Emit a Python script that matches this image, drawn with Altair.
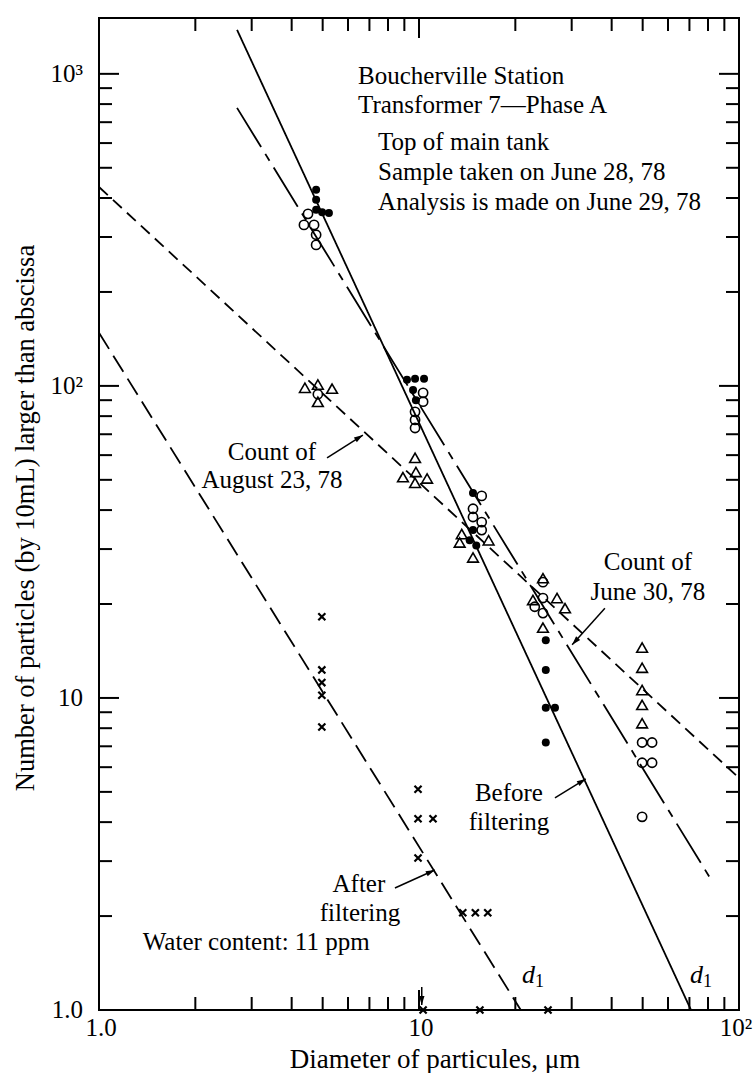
import math
import altair as alt
import pandas as pd

FONT = "Liberation Serif"
FS = 25
W, H = 640, 992
X_DOMAIN = [1, 100]
Y_DOMAIN = [1, 1510]

# ---- measured counts: particles (per 10 mL) larger than the diameter (μm)
# filled circles
before_x = [4.77, 4.77, 4.77, 4.98, 5.23, 9.17, 9.72, 10.37, 9.58, 9.78,
            14.75, 14.75, 14.4, 15.1, 24.9, 24.9, 24.9, 26.6, 24.9]
before_y = [425, 395, 367, 360, 358, 104.6, 105.4, 105.4, 97, 90,
            45.4, 34.5, 32, 30.8, 15.3, 12.3, 9.3, 9.3, 7.2]

# open circles
june_x = [4.5, 4.37, 4.7, 4.77, 4.77, 4.83, 10.3, 10.3, 9.72, 9.72, 9.72,
          15.7, 14.75, 14.75, 15.7, 15.7, 24.4, 24.4, 23.0, 24.4,
          49.8, 53.5, 49.8, 53.5, 49.8]
june_y = [356, 328, 328, 305, 283, 94, 95, 89, 82.6, 77.8, 73.3,
          44.4, 40.4, 38, 36.6, 34.5, 23.5, 20.9, 19.6, 18.7,
          7.2, 7.2, 6.2, 6.2, 4.16]

# open triangles
aug_x = [4.4, 4.83, 5.35, 4.83, 9.72, 8.91, 9.78, 10.6, 9.72,
         13.6, 13.4, 16.5, 14.75, 24.4, 22.7, 27.0, 28.6, 24.4,
         49.8, 49.8, 49.8, 49.8, 49.8]
aug_y = [98.6, 101, 98, 88.9, 58.8, 51, 53, 50.5, 48.9,
         33.5, 31.5, 32, 28.2, 24.2, 20.6, 20.9, 19.4, 16.8,
         14.5, 12.5, 10.6, 9.5, 8.3]

# crosses (after filtering)
after_x = [4.97, 4.97, 4.97, 4.97, 4.97, 9.93, 9.93, 11.06, 9.93,
           13.7, 15.0, 16.4, 10.3, 15.5, 25.3]
after_y = [18.2, 12.3, 11.2, 10.2, 8.07, 5.1, 4.1, 4.1, 3.07,
           2.05, 2.05, 2.05, 1.0, 1.0, 1.0]

# ---- fitted straight lines (end points)
fit_name = ["before", "june", "august", "after"]
fit_x0 = [2.70, 2.70, 1.0, 1.0]
fit_y0 = [1384, 778, 434, 148]
fit_x1 = [70.8, 81.2, 100, 20.8]
fit_y1 = [1.0, 2.65, 5.54, 1.0]
fit_dash = {"before": [1, 0], "june": [46, 8, 8, 8], "august": [12, 7], "after": [19, 8]}

# ---- axis tick values and labels
x_major = [10]
x_minor = [2, 3, 4, 5, 6, 7, 8, 9, 20, 30, 40, 50, 60, 70, 80, 90]
y_major = [10, 100, 1000]
y_minor = [2, 3, 4, 5, 6, 7, 8, 9, 20, 30, 40, 50, 60, 70, 80, 90,
           200, 300, 400, 500, 600, 700, 800, 900]
x_label_vals = [1, 10]
x_label_text = ["1.0", "10"]
x_end_val = [100]
x_end_text = ["10\u00b2"]
y_label_vals = [1, 10, 100, 1000]
y_label_text = ["1.0", "10", "10\u00b2", "10\u00b3"]
x_title = "Diameter of particules, \u03bcm"
y_title = "Number of particles (by 10mL) larger than abscissa"

# ---- annotations
left_text = ["Boucherville Station", "Transformer 7\u2014Phase A", "Top of main tank",
             "Sample taken on June 28, 78", "Analysis is made on June 29, 78",
             "Water content: 11 ppm"]
left_x = [6.45, 6.45, 7.45, 7.45, 7.45, 1.37]
left_y = [986, 796, 605, 485, 389, 1.65]

center_text = ["Count of", "August 23, 78", "Count of", "June 30, 78",
               "Before", "filtering", "After", "filtering"]
center_x = [3.47, 3.47, 51.9, 51.9, 19.1, 19.1, 6.49, 6.54]
center_y = [61.4, 50, 27.3, 21.9, 4.96, 4.0, 2.53, 2.05]

d_x = [21.0, 70.3]
d_y = [1.29, 1.29]

arrow_x0 = [5.16, 38.1, 26.6, 8.41, 10.2]
arrow_y0 = [58.8, 19.4, 4.78, 2.46, 1.185]
arrow_x1 = [6.68, 30.1, 33.2, 11.2, 10.2]
arrow_y1 = [69.6, 14.8, 5.5, 2.81, 1.037]

# ---- pixel size of one decade on each log axis (for arrowhead angles)
px_per_dec_x = W / (math.log10(X_DOMAIN[1]) - math.log10(X_DOMAIN[0]))
px_per_dec_y = H / (math.log10(Y_DOMAIN[1]) - math.log10(Y_DOMAIN[0]))


def head_angle(x0, y0, x1, y1):
    dx = px_per_dec_x * (math.log10(x1) - math.log10(x0))
    dy = -px_per_dec_y * (math.log10(y1) - math.log10(y0))
    return math.degrees(math.atan2(dx, -dy)) % 360


fits = pd.DataFrame({"name": fit_name, "x0": fit_x0, "y0": fit_y0, "x1": fit_x1, "y1": fit_y1})
arrows = pd.DataFrame({"x0": arrow_x0, "y0": arrow_y0, "x1": arrow_x1, "y1": arrow_y1})
arrows["angle"] = [head_angle(a, b, c, d) for a, b, c, d in
                   zip(arrow_x0, arrow_y0, arrow_x1, arrow_y1)]

xs = alt.Scale(type="log", domain=X_DOMAIN)
ys = alt.Scale(type="log", domain=Y_DOMAIN)


def X(field):
    return alt.X(f"{field}:Q", scale=xs, axis=None)


def Y(field):
    return alt.Y(f"{field}:Q", scale=ys, axis=None)


def enc():
    return dict(x=X("x"), y=Y("y"))


def pts(x, y):
    return pd.DataFrame({"x": x, "y": y})


layers = []

# fitted lines
for name in fit_name:
    sub = fits[fits["name"] == name]
    layers.append(
        alt.Chart(sub).mark_rule(color="black", strokeWidth=1.8, strokeDash=fit_dash[name])
        .encode(x=X("x0"), y=Y("y0"), x2="x1:Q", y2="y1:Q")
    )

# inward ticks on all four sides of the frame (tick marks centred half a length inside)
MAJ, MIN = 20, 13
TW = 2.0


def yticks(vals, length):
    df = pd.DataFrame({"v": vals})
    left = alt.Chart(df).mark_tick(
        orient="horizontal", size=length, thickness=TW, color="black", opacity=1).encode(
        y=Y("v"), x=alt.value(length / 2))
    right = alt.Chart(df).mark_tick(
        orient="horizontal", size=length, thickness=TW, color="black", opacity=1).encode(
        y=Y("v"), x=alt.value(W - length / 2))
    return [left, right]


def xticks(vals, length):
    df = pd.DataFrame({"v": vals})
    bottom = alt.Chart(df).mark_tick(
        orient="vertical", size=length, thickness=TW, color="black", opacity=1).encode(
        x=X("v"), y=alt.value(H - length / 2))
    top = alt.Chart(df).mark_tick(
        orient="vertical", size=length, thickness=TW, color="black", opacity=1).encode(
        x=X("v"), y=alt.value(length / 2))
    return [bottom, top]


layers += yticks(y_major, MAJ) + yticks(y_minor, MIN)
layers += xticks(x_major, MAJ) + xticks(x_minor, MIN)

# tick labels and axis titles
layers.append(alt.Chart(pd.DataFrame({"v": y_label_vals, "t": y_label_text})).mark_text(
    font=FONT, fontSize=FS, align="right", baseline="middle", color="black").encode(
    y=Y("v"), x=alt.value(-16), text="t:N"))
layers.append(alt.Chart(pd.DataFrame({"v": x_label_vals, "t": x_label_text})).mark_text(
    font=FONT, fontSize=FS, align="center", baseline="top", color="black", dx=2).encode(
    x=X("v"), y=alt.value(H + 6), text="t:N"))
layers.append(alt.Chart(pd.DataFrame({"v": x_end_val, "t": x_end_text})).mark_text(
    font=FONT, fontSize=FS, align="center", baseline="top", color="black", dx=-3).encode(
    x=X("v"), y=alt.value(H + 6), text="t:N"))
layers.append(alt.Chart(pd.DataFrame({"t": [x_title]})).mark_text(
    font=FONT, fontSize=27, align="center", baseline="middle", color="black").encode(
    x=alt.value(336), y=alt.value(H + 50), text="t:N"))
layers.append(alt.Chart(pd.DataFrame({"t": [y_title]})).mark_text(
    font=FONT, fontSize=26.5, align="center", baseline="middle", color="black", angle=270).encode(
    x=alt.value(-73), y=alt.value(500), text="t:N"))

# measured points
layers.append(alt.Chart(pts(june_x, june_y)).mark_point(
    shape="circle", filled=False, color="black", strokeWidth=1.6, size=85, opacity=1).encode(**enc()))
layers.append(alt.Chart(pts(aug_x, aug_y)).mark_point(
    shape="triangle-up", filled=False, color="black", strokeWidth=1.6, size=115, opacity=1).encode(**enc()))
layers.append(alt.Chart(pts(before_x, before_y)).mark_point(
    shape="circle", filled=True, color="black", size=64, opacity=1).encode(**enc()))
layers.append(alt.Chart(pts(after_x, after_y)).mark_point(
    shape="M-1,-1L1,1M-1,1L1,-1", filled=False, color="black", strokeWidth=2.2, size=50,
    opacity=1).encode(**enc()))

# arrows
layers.append(alt.Chart(arrows).mark_rule(color="black", strokeWidth=1.5).encode(
    x=X("x0"), y=Y("y0"), x2="x1:Q", y2="y1:Q"))
layers.append(alt.Chart(arrows).mark_point(
    shape="M0,0L0.55,1.8L-0.55,1.8Z", filled=True, color="black", size=100, opacity=1).encode(
    x=X("x1"), y=Y("y1"), angle=alt.Angle("angle:Q", scale=None)))

# annotations
layers.append(alt.Chart(pd.DataFrame({"x": left_x, "y": left_y, "t": left_text})).mark_text(
    font=FONT, fontSize=FS, align="left", baseline="middle", color="black").encode(
    text="t:N", **enc()))
layers.append(alt.Chart(pd.DataFrame({"x": center_x, "y": center_y, "t": center_text})).mark_text(
    font=FONT, fontSize=FS, align="center", baseline="middle", color="black").encode(
    text="t:N", **enc()))
layers.append(alt.Chart(pts(d_x, d_y)).mark_text(
    font=FONT, fontSize=FS + 1, fontStyle="italic", align="left", baseline="middle",
    color="black", text="d").encode(**enc()))
layers.append(alt.Chart(pts(d_x, d_y)).mark_text(
    font=FONT, fontSize=18, align="left", baseline="middle", color="black", text="1",
    dx=13, dy=7).encode(**enc()))

chart = alt.layer(*layers).properties(
    width=W, height=H,
    padding={"left": 99, "top": 18, "right": 16, "bottom": 63},
    autosize=alt.AutoSizeParams(type="none"),
    background="white",
).configure_view(stroke="black", strokeWidth=2)

chart.save("out.html", embed_options={"renderer": "svg", "actions": False})
